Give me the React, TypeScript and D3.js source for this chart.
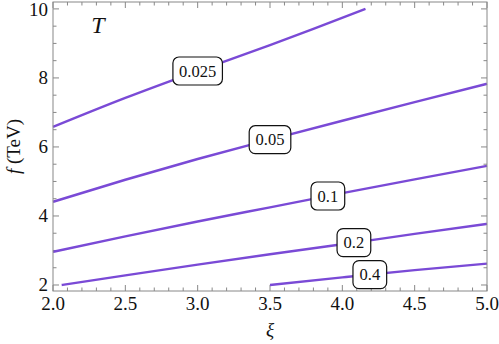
import React from 'react';
import * as d3 from 'd3';

// contour levels of T and points (xi, f in TeV)
const levels = ['0.025', '0.05', '0.1', '0.2', '0.4'];
const curve025 = [[2.0, 6.58], [2.5, 7.42], [3.0, 8.2], [3.5, 8.95], [3.8, 9.42], [4.16, 10.0]];
const curve05 = [[2.0, 4.41], [2.5, 5.05], [3.0, 5.65], [3.5, 6.21], [4.0, 6.76], [4.5, 7.3], [5.0, 7.83]];
const curve1 = [[2.0, 2.96], [2.5, 3.41], [3.0, 3.84], [3.5, 4.25], [4.0, 4.66], [4.5, 5.06], [5.0, 5.45]];
const curve2 = [[2.06, 2.0], [2.5, 2.28], [3.0, 2.59], [3.5, 2.89], [4.0, 3.18], [4.5, 3.48], [5.0, 3.77]];
const curve4 = [[3.5, 2.0], [4.0, 2.22], [4.5, 2.43], [5.0, 2.62]];
const curves = [curve025, curve05, curve1, curve2, curve4];
// where along xi each label box sits
const labelXi = [3.0, 3.5, 3.9, 4.08, 4.19];

const xTicks = [2.0, 2.5, 3.0, 3.5, 4.0, 4.5, 5.0];
const yTicks = [2, 4, 6, 8, 10];

const serif = "'Liberation Serif', 'Times New Roman', serif";

const App = () => {
  const width = 499;
  const height = 344;
  const left = 53, right = 487, top = 2, bottom = 291;

  const x = d3.scaleLinear().domain([2, 5]).range([left, right]);
  const y = d3.scaleLinear().domain([1.826, 10.2]).range([bottom, top]);

  const line = d3
    .line<number[]>()
    .x((d) => x(d[0]))
    .y((d) => y(d[1]))
    .curve(d3.curveMonotoneX);

  const fAt = (pts: number[][], xi: number) => {
    for (let i = 1; i < pts.length; i++) {
      if (xi <= pts[i][0]) {
        const t = (xi - pts[i - 1][0]) / (pts[i][0] - pts[i - 1][0]);
        return pts[i - 1][1] + t * (pts[i][1] - pts[i - 1][1]);
      }
    }
    return pts[pts.length - 1][1];
  };

  const xMinor = d3.range(20, 51).map((d) => d / 10);
  const yMinor = d3.range(4, 21).map((d) => d / 2);
  const frameColor = '#888';
  const txt = { fontFamily: serif, fill: '#111' };

  return (
    <svg width={width} height={height} style={{ position: 'absolute', left: 0, top: 0 }}>
      <rect x={0} y={0} width={width} height={height} fill="#fff" />

      {/* ticks */}
      <g stroke={frameColor} strokeWidth={1}>
        {xMinor.map((t) => {
          const major = xTicks.some((m) => Math.abs(m - t) < 1e-6);
          const len = major ? 6 : 3.5;
          return (
            <g key={'x' + t}>
              <line x1={x(t)} x2={x(t)} y1={bottom} y2={bottom - len} />
              <line x1={x(t)} x2={x(t)} y1={top} y2={top + len} />
            </g>
          );
        })}
        {yMinor.map((t) => {
          const major = yTicks.includes(t);
          const len = major ? 6 : 3.5;
          return (
            <g key={'y' + t}>
              <line x1={left} x2={left + len} y1={y(t)} y2={y(t)} />
              <line x1={right} x2={right - len} y1={y(t)} y2={y(t)} />
            </g>
          );
        })}
      </g>

      {/* contour curves */}
      <g fill="none" stroke="#7A4AD6" strokeWidth={2.4}>
        {curves.map((c, i) => (
          <path key={i} d={line(c) || ''} />
        ))}
      </g>

      {/* level labels */}
      {levels.map((lab, i) => {
        const cx = x(labelXi[i]);
        const cy = y(fAt(curves[i], labelXi[i]));
        const w = lab.length * 7.9 + 10;
        const h = 28;
        return (
          <g key={lab}>
            <rect x={cx - w / 2} y={cy - h / 2} width={w} height={h} rx={6} fill="#fff" stroke="#111" strokeWidth={1.2} />
            <text x={cx} y={cy + 5.5} textAnchor="middle" fontSize={16.5} style={txt}>
              {lab}
            </text>
          </g>
        );
      })}

      {/* frame */}
      <rect x={left} y={top} width={right - left} height={bottom - top} fill="none" stroke={frameColor} strokeWidth={1} />

      {/* tick labels */}
      {xTicks.map((t) => (
        <text key={'xl' + t} x={x(t)} y={310} textAnchor="middle" fontSize={19} style={txt}>
          {t.toFixed(1)}
        </text>
      ))}
      {yTicks.map((t) => (
        <text key={'yl' + t} x={48} y={Math.max(y(t) + 6, 16)} textAnchor="end" fontSize={19} style={txt}>
          {t}
        </text>
      ))}

      {/* axis labels */}
      <text x={(left + right) / 2} y={336} textAnchor="middle" fontSize={19} fontStyle="italic" style={txt}>
        ξ
      </text>
      <text transform={`translate(20, ${(top + bottom) / 2}) rotate(-90)`} textAnchor="middle" fontSize={19} style={txt}>
        <tspan fontStyle="italic">f</tspan>
        <tspan> (TeV)</tspan>
      </text>
      <text x={98} y={33} textAnchor="middle" fontSize={24} fontStyle="italic" style={txt}>
        T
      </text>
    </svg>
  );
};

export default App;
